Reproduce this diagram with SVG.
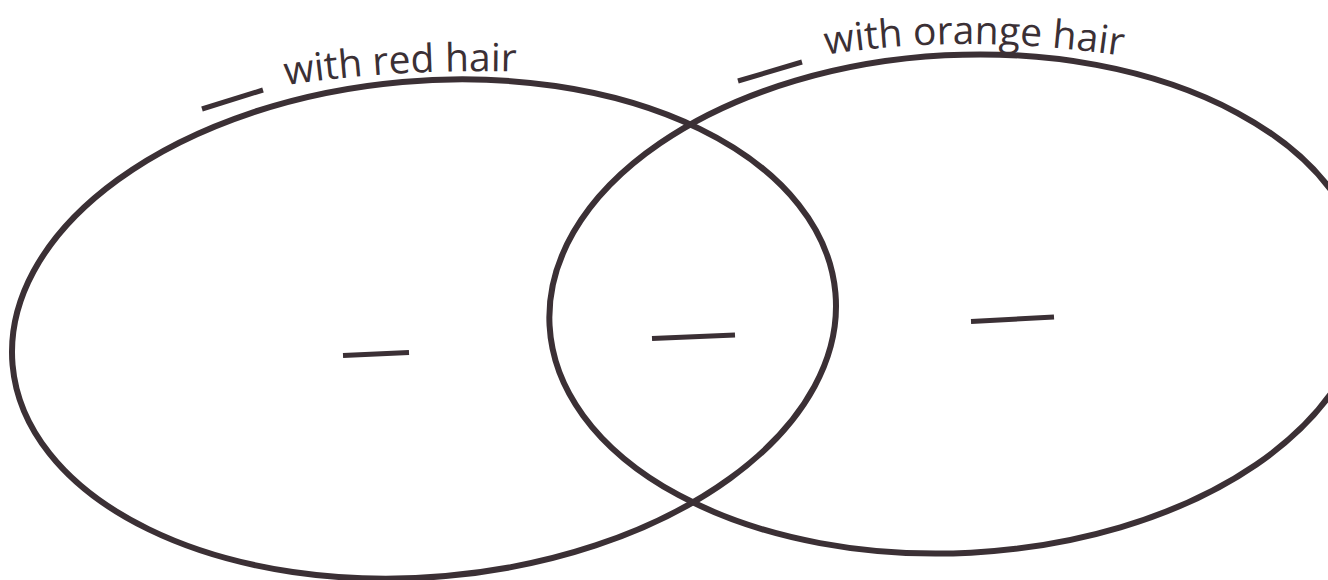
<svg xmlns="http://www.w3.org/2000/svg" width="1328" height="580" viewBox="0 0 1328 580">
  <style>
    .ring { fill: none; stroke: #3b3035; stroke-width: 6; }
    .blank { stroke: #3b3035; stroke-width: 5; stroke-linecap: butt; fill: none; }
    .label { font-family: "Open Sans", "Noto Sans", "DejaVu Sans", sans-serif; font-size: 39px; font-weight: 500; fill: #3b3035; }
  </style>
  <defs>
    <path id="arcLeft" d="M 286,85 Q 400,68 530,72"/>
    <path id="arcRight" d="M 826,55 Q 970,32 1130,57"/>
  </defs>
  <rect width="1328" height="580" fill="#ffffff"/>
  <g id="set-red">
    <ellipse class="ring" cx="424" cy="329" rx="413" ry="248" transform="rotate(-5 424 329)"/>
    <line class="blank" x1="202" y1="109" x2="263" y2="90"/>
    <text class="label"><textPath href="#arcLeft">with red hair</textPath></text>
    <line class="blank" x1="343" y1="355.5" x2="409" y2="352.5"/>
  </g>
  <g id="set-orange">
    <ellipse class="ring" cx="958" cy="304" rx="409" ry="249" transform="rotate(-3 958 304)"/>
    <line class="blank" x1="738" y1="81" x2="802" y2="62"/>
    <text class="label"><textPath href="#arcRight">with orange hair</textPath></text>
    <line class="blank" x1="971" y1="321.5" x2="1054" y2="317"/>
  </g>
  <g id="set-both">
    <line class="blank" x1="652" y1="338.5" x2="735" y2="335"/>
  </g>
  <g id="connectors"/>
</svg>
